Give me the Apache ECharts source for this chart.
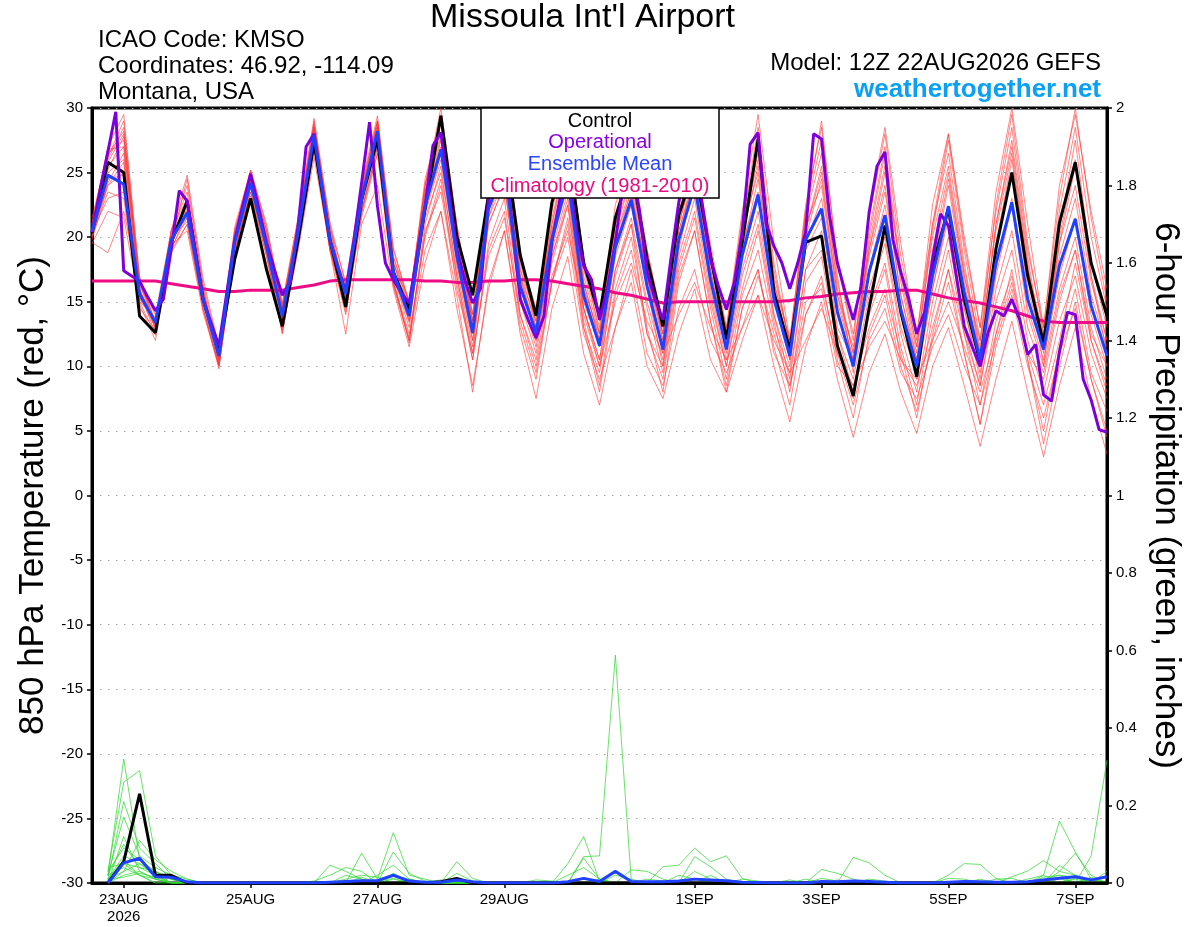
<!DOCTYPE html>
<html><head><meta charset="utf-8">
<script src="https://cdn.jsdelivr.net/npm/echarts@6/dist/echarts.min.js"></script>
<style>html,body{margin:0;padding:0;background:#fff}#c{width:1200px;height:927px}</style>
</head><body><div id="c"></div>
<script>
const FONT = '"Liberation Sans", Arial, Helvetica, sans-serif';

// x axis: 6-hourly steps starting 12Z 22AUG2026 (65 steps)
const tickIndex  = [2, 10, 18, 26, 38, 46, 54, 62];
const tickLabels = ['23AUG\n2026', '25AUG', '27AUG', '29AUG', '1SEP', '3SEP', '5SEP', '7SEP'];
const monthNames = ['JAN','FEB','MAR','APR','MAY','JUN','JUL','AUG','SEP','OCT','NOV','DEC'];
const categories = [];
for (let i = 0; i < 65; i++) {
  const d = new Date(Date.UTC(2026, 7, 22, 12) + i * 6 * 3600 * 1000);
  categories.push(d.getUTCDate() + monthNames[d.getUTCMonth()] + ' ' + String(d.getUTCHours()).padStart(2, '0') + 'Z');
}

// 850 hPa temperature (deg C)
const controlTemp = [20.3,25.8,25.0,13.9, 12.6,19.6,22.8,15.2, 11.2,18.3,23.0,17.5, 13.1,19.8,27.3,19.8,
  14.6,22.9,27.6,17.3, 14.4,22.2,29.4,20.1, 15.5,23.2,27.5,18.6, 13.9,22.7,27.0,18.0,
  13.9,21.5,25.5,18.3, 13.1,21.7,25.5,18.6, 12.1,19.6,27.6,15.7, 11.3,19.6,20.1,11.6,
  7.7,14.5,20.9,14.2, 9.2,17.8,22.2,15.2, 10.3,19.1,25.0,17.0, 11.8,21.1,25.8,18.0, 13.9];
const meanTemp = [20.4,24.8,24.1,15.6, 13.4,19.8,21.9,15.2, 10.8,19.6,24.2,19.3, 13.9,20.4,27.9,19.8,
  15.6,22.9,28.2,17.3, 13.9,22.4,26.8,18.6, 12.6,22.2,25.5,16.2, 12.6,19.8,24.5,15.5,
  11.6,19.2,22.9,16.2, 11.3,19.8,24.0,16.7, 11.3,18.6,23.3,15.2, 10.8,19.8,22.2,14.2,
  10.0,17.3,21.7,14.4, 10.0,17.0,22.4,15.7, 10.5,18.0,22.7,15.2, 11.3,17.8,21.4,14.7, 10.8];
// operational run is 3-hourly (129 values)
const operational3h = [20.4,23.6,26.6,29.7,17.4,17.0,16.6,15.4,
  14.3,15.2,19.1,23.6,22.8,19.0,15.2,13.4,
  11.6,15.7,19.8,22.4,24.9,22.3,19.6,17.5,
  15.5,16.5,20.9,27.0,28.0,23.9,19.8,17.6,
  15.8,19.6,24.2,28.9,22.4,18.0,16.7,15.7,
  14.9,18.6,22.4,27.1,28.1,23.5,19.1,16.7,
  14.9,16.0,22.9,26.0,27.0,20.9,15.2,13.6,
  12.2,13.9,19.6,22.9,25.5,20.9,17.8,16.7,
  13.6,16.0,19.6,24.2,25.5,22.2,17.3,15.2,
  13.6,18.3,22.7,26.0,26.5,22.4,18.3,16.2,
  14.4,16.5,20.4,27.2,28.1,21.1,19.3,18.0,
  16.0,18.0,20.4,28.0,27.6,21.7,18.0,15.7,
  13.6,16.2,21.9,25.5,26.6,19.8,17.3,15.2,
  12.5,14.2,18.3,21.8,20.9,17.0,13.1,11.5,
  10.0,12.6,14.3,13.9,15.2,13.6,10.9,11.7,
  7.8,7.3,11.1,14.2,14.0,9.0,7.4,5.1,
  4.9];
const climatology = [16.6,16.6,16.6,16.6, 16.6,16.4,16.2,16.0, 15.8,15.8,15.9,15.9, 15.9,16.1,16.3,16.6,
  16.7,16.7,16.7,16.7, 16.7,16.6,16.6,16.5, 16.5,16.6,16.6,16.7, 16.7,16.6,16.4,16.2,
  16.0,15.7,15.5,15.2, 14.9,15.0,15.0,15.0, 15.0,15.0,15.0,15.0, 15.1,15.3,15.4,15.6,
  15.7,15.8,15.8,15.9, 15.9,15.6,15.3,15.1, 14.9,14.6,14.3,13.9, 13.5,13.4,13.4,13.4, 13.4];

// ensemble members (850 hPa temperature)
const member01 = [20.8,26.0,28.5,16.0, 13.0,19.5,22.5,15.8, 10.5,20.0,25.0,20.0, 14.2,21.0,28.8,20.5, 15.0,23.5,28.8,18.0, 14.5,23.5,29.0,20.5, 14.0,23.5,28.0,18.0, 13.5,21.0,27.0,17.5, 13.0,21.5,26.0,18.5, 12.5,21.5,26.5,18.5, 12.0,21.0,28.5,18.0, 11.5,22.0,27.5,17.0, 9.5,20.0,26.5,17.0, 11.0,20.5,27.5,19.0, 12.0,22.5,29.5,19.5, 12.5,22.0,28.5,20.0, 14.5];
const member02 = [20.0,23.5,23.0,14.5, 12.8,19.0,21.0,14.5, 10.2,19.0,23.5,18.5, 13.0,19.5,27.0,19.0, 14.5,21.5,26.5,16.5, 12.5,20.0,24.0,17.0, 10.5,19.5,23.0,14.0, 10.0,16.5,21.5,13.5, 8.5,16.0,20.0,13.0, 8.0,16.5,20.5,13.5, 8.5,14.5,17.5,11.5, 7.0,14.0,17.0,10.5, 6.0,12.5,15.5,10.0, 6.5,12.0,16.5,11.0, 5.5,11.5,15.5,10.0, 6.0,11.0,14.5,9.0, 5.0];
const member03 = [21.0,27.0,29.5,16.5, 13.5,20.5,23.0,16.0, 11.0,20.5,25.0,20.5, 14.5,21.0,28.5,20.0, 16.0,23.5,29.0,18.5, 14.5,24.0,29.5,21.0, 13.5,23.5,27.5,17.5, 13.0,21.0,26.0,16.5, 12.0,20.5,24.5,17.5, 12.5,21.0,25.5,18.5, 12.5,21.5,27.0,17.0, 12.0,22.5,28.5,18.0, 12.5,21.5,28.0,18.5, 12.5,21.0,26.5,18.0, 11.0,21.0,27.0,18.0, 10.0,19.5,24.0,16.5, 12.0];
const member04 = [19.5,22.0,21.5,15.0, 13.8,20.0,21.5,14.8, 11.2,19.5,24.0,19.0, 13.5,20.0,27.5,19.5, 16.0,23.0,27.5,17.0, 13.5,21.5,25.0,17.5, 11.5,21.0,24.0,15.0, 12.0,18.5,22.5,14.0, 10.0,17.0,21.0,14.5, 9.5,17.5,21.5,14.5, 9.0,15.5,19.0,13.0, 9.5,17.5,19.0,12.5, 8.0,14.5,18.0,11.5, 7.0,14.0,19.0,12.5, 8.5,15.0,19.0,12.0, 8.0,13.5,17.0,11.0, 7.5];
const member05 = [20.5,25.5,27.0,16.0, 13.2,19.5,22.0,15.5, 10.8,19.5,24.5,19.5, 14.0,20.5,28.0,20.0, 15.5,22.0,27.0,16.5, 12.0,19.0,22.0,15.5, 8.0,16.5,20.5,12.5, 7.5,14.5,18.5,11.0, 7.0,13.0,16.5,10.0, 7.5,12.5,16.0,10.5, 8.0,12.0,15.5,10.0, 5.7,11.5,15.0,9.0, 4.5,9.5,12.5,8.0, 4.8,10.0,13.0,8.5, 3.8,9.0,13.5,8.0, 3.0,8.5,13.0,7.5, 3.2];
const member06 = [21.5,26.5,27.5,15.8, 12.5,19.0,22.0,15.0, 10.0,19.0,23.5,19.0, 13.0,20.0,27.0,19.5, 15.0,22.5,28.5,17.5, 14.0,22.0,26.5,18.5, 13.0,22.5,26.5,17.0, 13.5,20.5,25.5,16.5, 12.0,20.0,24.0,17.0, 12.0,20.5,25.0,17.5, 11.5,20.0,25.5,16.5, 11.0,21.5,26.5,16.0, 11.0,20.5,27.0,17.5, 11.5,21.0,28.0,19.5, 13.0,22.0,28.5,19.0, 13.0,23.0,30.0,21.5, 15.0];
const member07 = [19.8,24.0,25.0,15.2, 13.6,20.2,22.2,15.0, 10.6,19.8,24.3,19.5, 14.0,20.8,28.3,20.2, 15.8,23.0,28.0,17.0, 13.0,22.5,27.5,19.0, 12.5,22.0,25.0,15.5, 12.0,19.0,23.5,14.5, 10.5,18.5,22.5,16.0, 10.0,19.0,24.5,16.0, 10.5,17.5,22.0,14.0, 10.0,19.0,21.5,13.0, 10.5,16.0,20.0,13.0, 9.5,16.0,21.5,14.5, 9.0,17.0,22.5,14.0, 10.0,16.0,20.0,13.0, 9.0];
const member08 = [20.2,25.0,26.0,14.8, 12.0,19.2,21.5,14.6, 9.8,18.8,23.8,18.8, 12.5,19.8,27.2,19.2, 14.2,22.0,27.8,16.8, 11.8,21.0,25.5,17.0, 11.0,21.5,24.5,15.0, 11.0,18.0,22.5,13.0, 9.5,17.5,21.0,12.5, 10.0,18.0,22.0,15.0, 10.0,16.0,20.5,13.5, 8.0,16.5,18.5,11.5, 7.5,14.0,17.5,10.5, 8.5,13.0,17.5,12.5, 7.0,13.5,17.0,10.5, 5.0,11.5,16.0,9.5, 6.5];
const member09 = [19.6,18.8,22.0,16.2, 14.0,20.5,24.8,16.8, 11.5,20.5,25.0,20.5, 14.5,21.0,27.5,19.0, 12.5,21.0,24.0,16.0, 11.5,18.0,22.0,14.5, 8.5,16.0,20.5,13.0, 9.0,16.5,20.0,12.5, 9.0,13.0,17.5,11.0, 8.5,14.5,17.5,12.0, 9.5,13.0,17.0,12.5, 8.5,14.0,16.5,11.0, 7.0,12.0,14.5,9.5, 7.5,11.5,14.0,10.0, 7.0,12.0,16.0,11.0, 9.0,15.0,19.0,12.5, 10.0];
const member10 = [21.0,26.8,27.0,15.6, 13.0,20.0,21.8,15.4, 11.0,19.8,24.6,19.8, 14.8,21.2,29.0,20.8, 16.5,24.0,29.0,18.5, 15.0,23.5,28.0,19.5, 13.5,23.0,27.0,17.5, 14.0,21.5,26.5,17.0, 12.5,21.0,24.5,18.0, 12.0,22.0,26.0,18.0, 13.0,20.5,26.0,16.5, 12.0,20.5,25.0,15.5, 11.5,19.0,25.0,16.5, 10.5,19.0,25.0,17.0, 12.0,20.5,26.5,17.5, 12.5,20.5,27.5,18.0, 13.0];
const member11 = [20.6,25.8,28.0,16.8, 13.4,19.8,22.6,15.6, 10.4,19.2,24.0,19.2, 13.6,20.2,28.0,20.0, 16.2,23.5,28.5,18.0, 15.0,24.0,29.0,20.0, 13.5,22.5,26.5,17.0, 12.5,20.5,25.5,16.0, 12.5,20.0,23.5,17.0, 12.5,21.0,25.5,17.5, 11.5,20.5,25.0,16.0, 11.5,21.0,24.0,15.0, 10.5,19.0,24.0,15.5, 10.0,17.5,24.0,16.5, 10.5,19.0,25.0,16.0, 11.5,18.5,23.0,15.5, 11.5];
const member12 = [20.0,24.5,24.8,15.3, 13.6,20.0,21.2,15.0, 11.0,19.6,24.4,19.4, 14.2,20.6,27.8,20.0, 15.4,22.8,28.6,17.6, 14.2,23.0,27.0,18.0, 12.0,21.5,25.5,16.5, 12.5,19.5,24.0,15.0, 11.5,19.5,23.0,16.5, 11.5,20.5,24.5,17.0, 12.0,19.5,23.5,15.5, 10.5,19.5,23.0,14.5, 10.0,17.5,22.5,14.5, 9.0,16.0,22.0,14.5, 9.5,17.5,23.0,14.5, 10.5,17.0,21.5,14.0, 10.0];
const member13 = [21.2,26.2,29.0,17.0, 12.8,19.6,24.5,16.2, 10.2,20.2,25.2,21.0, 14.6,21.4,28.6,21.0, 15.2,23.8,29.0,19.0, 15.0,24.0,30.0,21.0, 14.0,24.0,28.5,19.0, 13.0,22.0,27.5,18.5, 12.5,21.0,25.5,19.0, 13.0,22.5,26.0,19.5, 13.0,22.0,29.5,19.5, 12.0,22.0,29.0,18.0, 12.0,22.0,28.5,19.5, 12.0,22.5,28.0,20.0, 13.0,23.5,30.0,21.0, 13.0,24.0,29.5,22.0, 16.0];
const member14 = [20.4,23.0,23.5,14.0, 12.6,19.4,20.5,14.2, 10.0,18.5,23.0,18.0, 12.8,19.0,26.2,19.2, 14.8,22.0,26.5,16.2, 12.0,20.5,23.5,16.5, 10.5,19.0,22.0,13.5, 9.5,16.5,21.0,13.0, 8.0,15.5,19.0,12.5, 9.0,17.0,20.5,13.5, 8.0,14.5,17.5,11.0, 8.5,15.0,16.0,10.0, 8.5,13.0,16.0,11.0, 6.0,12.5,17.5,11.0, 5.5,12.5,17.5,10.5, 4.0,10.0,15.0,9.0, 4.5];
const member15 = [20.3,25.2,27.8,16.4, 13.1,20.4,23.5,15.9, 10.9,20.0,24.8,20.2, 14.3,20.9,28.5,20.6, 15.7,23.2,28.4,18.2, 13.6,22.8,27.8,19.6, 12.8,22.8,26.8,16.8, 12.8,20.2,25.0,16.0, 11.5,19.5,23.5,17.0, 11.0,20.0,24.8,17.0, 11.0,19.0,24.5,16.0, 10.5,20.0,24.5,15.5, 10.5,18.5,23.5,15.5, 10.5,18.0,24.5,17.0, 11.0,19.5,26.0,17.5, 11.5,19.5,25.5,17.0, 12.0];
const member16 = [20.1,24.2,26.5,15.0, 12.4,18.8,21.0,14.4, 10.1,18.6,23.2,18.6, 12.6,19.4,26.8,19.0, 14.0,21.8,27.0,16.4, 12.2,20.2,24.5,16.0, 11.0,18.5,21.5,14.0, 10.5,17.0,20.5,14.5, 10.0,15.0,18.0,13.5, 11.0,14.0,16.5,13.0, 10.5,13.0,15.5,12.0, 9.5,12.0,14.5,11.0, 8.5,11.5,13.5,10.5, 9.0,12.0,15.0,11.5, 8.0,12.5,16.5,11.0, 7.0,12.0,18.0,12.0, 8.0];
const member17 = [20.9,26.4,28.2,15.9, 13.3,20.6,24.0,16.4, 11.3,20.8,25.2,20.8, 14.9,21.6,29.2,21.2, 16.3,24.2,29.4,19.2, 14.8,24.5,29.2,20.0, 13.2,24.0,28.8,18.5, 14.5,22.5,28.0,18.0, 13.5,22.5,26.5,19.0, 13.5,22.0,26.0,18.0, 12.5,21.0,26.5,17.5, 11.5,20.5,25.5,16.5, 11.0,19.5,25.5,17.5, 11.5,20.0,25.5,17.5, 11.5,21.0,27.5,18.5, 11.0,20.0,26.0,17.0, 11.0];
const member18 = [20.4,24.0,25.8,15.4, 13.0,19.6,22.0,15.2, 10.7,19.4,24.0,19.2, 13.8,20.4,27.6,19.8, 15.3,22.6,27.6,17.2, 13.4,21.8,26.0,18.0, 12.0,21.0,24.0,15.5, 11.5,18.5,23.0,14.5, 10.5,17.5,21.5,15.0, 10.5,18.5,23.0,15.5, 10.0,17.0,21.0,14.0, 9.0,17.5,20.5,12.5, 9.0,15.5,19.5,12.5, 8.0,15.0,20.0,13.0, 8.5,16.0,20.5,13.0, 9.5,15.5,19.0,12.0, 8.5];
const tempMembers = [member01, member02, member03, member04, member05, member06, member07, member08, member09,
  member10, member11, member12, member13, member14, member15, member16, member17, member18];

// 6-hour precipitation (inches)
const controlPrecip = [null,0,0.055,0.23,0.02,0.02,0,0,0,0, 0,0,0,0,0,0,0,0,0,0, 0,0,0.003,0.012,0,0,0,0,0,0, 0,0,0,0,0,0,0,0,0,0, 0,0,0,0,0,0,0,0,0,0, 0,0,0,0,0,0,0,0,0,0, 0,0,0,0,0];
const meanPrecip = [null,0,0.052,0.064,0.016,0.015,0.003,0,0,0, 0,0,0,0,0,0.002,0.004,0.006,0.006,0.02, 0.005,0.002,0.002,0.008,0.003,0,0,0,0,0, 0.003,0.012,0.004,0.03,0.004,0.003,0.003,0.005,0.01,0.008, 0.006,0.002,0.001,0,0,0,0.004,0.003,0.005,0.004, 0.002,0,0,0,0.002,0.004,0.003,0.002,0.002,0.003, 0.008,0.012,0.016,0.008,0.016];
const precip01 = [null,0.02,0.32,0.06,0.02,0.01,0,0,0,0, 0,0,0,0,0,0.046,0.03,0.01,0,0, 0,0,0,0,0,0,0,0,0,0, 0,0.068,0.07,0.588,0.008,0,0,0,0,0, 0,0,0,0,0,0,0,0,0,0, 0,0,0,0,0,0,0,0,0,0, 0.02,0.16,0.08,0.01,0];
const precip02 = [null,0.03,0.26,0.29,0.07,0.02,0.01,0,0,0, 0,0,0,0,0,0,0,0.077,0.01,0.13, 0.02,0.01,0,0,0,0,0,0,0,0, 0.05,0.12,0.005,0,0,0,0,0,0,0, 0,0,0,0,0,0,0.035,0.025,0.01,0, 0,0,0,0,0,0,0,0,0,0, 0,0,0,0.07,0.317];
const precip03 = [null,0.01,0.21,0.09,0.05,0.01,0,0,0,0, 0,0,0,0,0,0,0,0,0,0.08, 0.025,0.005,0,0.055,0.012,0,0,0,0,0, 0,0.064,0.01,0,0,0,0.042,0.046,0.09,0.055, 0.07,0.012,0,0,0,0,0,0,0,0, 0,0,0,0,0.02,0.05,0.048,0.012,0,0, 0,0,0,0,0];
const precip04 = [null,0.02,0.17,0.07,0.04,0.02,0,0,0,0, 0,0,0,0,0,0,0,0,0.02,0.046, 0.01,0,0,0,0,0,0,0,0,0, 0,0,0,0,0.034,0.03,0.01,0,0,0, 0,0,0,0,0,0,0,0,0.066,0.052, 0.02,0,0,0,0,0,0,0,0.016,0.031, 0.058,0.03,0.077,0.02,0];
const precip05 = [null,0.01,0.07,0.05,0.02,0,0,0,0,0, 0,0,0,0,0.005,0.02,0.04,0.03,0,0.025, 0.005,0,0,0,0,0,0,0,0,0, 0,0,0,0,0,0,0,0,0.068,0.042, 0.01,0,0,0,0.008,0,0,0,0,0, 0,0,0,0,0,0,0,0,0,0, 0,0.03,0.02,0,0];
const precip06 = [null,0.04,0.05,0.04,0.03,0.01,0,0,0,0, 0,0,0,0,0,0,0,0,0,0, 0,0,0,0.025,0.005,0,0,0,0,0, 0,0,0,0,0,0,0,0.02,0.01,0, 0,0,0,0,0,0,0,0,0,0, 0,0,0,0,0.012,0.01,0,0,0,0, 0.015,0.02,0.015,0,0];
const precip07 = [null,0,0.12,0.03,0.01,0,0,0,0,0, 0,0,0,0,0,0,0.01,0.02,0.015,0, 0,0,0,0,0,0,0,0,0.008,0.005, 0,0,0,0,0,0,0,0,0,0, 0,0,0,0,0,0,0,0,0,0.01, 0.005,0,0,0,0,0,0,0,0,0, 0,0,0,0,0.03];
const precip08 = [null,0.02,0.04,0.02,0.01,0,0,0,0,0, 0,0,0,0,0,0,0,0,0,0.02, 0.01,0,0,0,0,0,0,0,0,0, 0,0,0,0,0,0,0,0,0,0, 0,0.01,0.005,0,0,0,0,0,0,0, 0,0,0,0,0,0,0,0,0,0.01, 0.02,0,0,0,0];
const precip09 = [null,0.01,0.03,0.11,0.06,0.03,0.01,0,0,0, 0,0,0,0,0,0,0,0,0,0, 0,0,0.005,0.012,0,0,0,0,0,0, 0,0,0.01,0,0,0,0,0,0,0, 0,0,0,0,0,0,0.012,0.005,0,0, 0,0,0,0,0,0,0,0,0,0, 0,0,0.02,0.01,0];
const precip10 = [null,0.03,0.09,0.06,0.03,0,0,0,0,0, 0,0,0,0,0,0,0,0.015,0,0, 0,0,0,0,0,0,0,0,0,0, 0,0,0,0,0,0,0,0,0,0.02, 0,0,0,0,0,0,0,0,0,0, 0,0,0,0,0,0,0,0.01,0.012,0, 0,0,0,0,0];
const precip11 = [null,0,0.02,0.03,0.01,0,0,0,0,0, 0,0,0,0,0,0,0,0,0,0, 0,0,0,0,0,0,0,0,0,0, 0,0,0,0,0,0.01,0.005,0,0,0, 0,0,0,0,0,0,0,0,0,0, 0,0,0,0,0,0,0,0,0,0, 0,0.012,0,0,0];
const precip12 = [null,0.01,0.06,0.02,0,0,0,0,0,0, 0,0,0,0,0,0,0,0,0,0, 0.01,0,0,0,0,0,0,0,0,0, 0,0,0,0,0,0,0,0,0,0, 0,0,0,0,0,0,0,0,0,0, 0,0,0,0,0,0,0,0,0,0, 0,0,0.01,0,0];
const precip13 = [null,0.02,0.1,0.04,0.02,0,0,0,0,0, 0,0,0,0,0,0,0.02,0.01,0,0, 0,0,0,0,0,0,0,0,0,0, 0,0,0,0.02,0.01,0,0,0,0,0, 0,0,0,0,0,0,0,0.008,0,0, 0,0,0,0,0,0,0,0,0,0, 0,0.045,0.02,0,0];
const precip14 = [null,0,0.03,0.05,0.03,0.01,0,0,0,0, 0,0,0,0,0,0,0,0,0,0.01, 0,0,0,0,0,0,0,0,0,0, 0.02,0.04,0.01,0,0,0,0,0,0,0, 0,0,0,0,0,0,0,0,0,0, 0,0,0,0,0,0,0.01,0,0,0, 0,0,0,0.015,0];
const precip15 = [null,0.01,0.015,0.025,0.015,0,0,0,0,0, 0,0,0,0,0,0,0,0,0,0, 0,0,0.008,0,0,0,0,0,0,0, 0,0,0,0,0,0,0,0,0.03,0.01, 0,0,0,0,0,0,0,0,0,0, 0,0,0,0,0,0,0,0,0,0, 0.01,0.02,0,0,0];
const precip16 = [null,0,0.05,0.02,0,0,0,0,0,0, 0,0,0,0,0,0,0,0,0.005,0.012, 0,0,0,0,0,0,0,0,0,0, 0,0,0,0,0,0,0,0,0,0, 0,0,0,0,0,0.01,0,0,0,0, 0,0,0,0,0,0,0,0,0,0, 0,0,0.012,0.01,0];
const precipMembers = [precip01, precip02, precip03, precip04, precip05, precip06, precip07, precip08,
  precip09, precip10, precip11, precip12, precip13, precip14, precip15, precip16];

const legendItems  = ['Control', 'Operational', 'Ensemble Mean', 'Climatology (1981-2010)'];
const legendColors = ['#000000', '#8a00e6', '#2a44ff', '#ec0a82'];

const chart = echarts.init(document.getElementById('c'), null, {renderer: 'canvas'});
const series = [];
tempMembers.forEach((m, k) => series.push({
  name: 'T member ' + (k + 1), type: 'line', data: m, xAxisIndex: 0, yAxisIndex: 0,
  symbol: 'none', silent: true, z: 1,
  lineStyle: {color: '#ff3535', width: 0.8, opacity: 0.75}
}));
precipMembers.forEach((m, k) => series.push({
  name: 'P member ' + (k + 1), type: 'line', data: m, xAxisIndex: 0, yAxisIndex: 1,
  symbol: 'none', silent: true, z: 1,
  lineStyle: {color: '#2ed62e', width: 0.8, opacity: 0.9}
}));
series.push({name: 'Climatology', type: 'line', data: climatology, xAxisIndex: 0, yAxisIndex: 0,
  symbol: 'none', silent: true, z: 2, lineStyle: {color: '#ee0b85', width: 3}});
series.push({name: 'Control', type: 'line', data: controlTemp, xAxisIndex: 0, yAxisIndex: 0,
  symbol: 'none', silent: true, z: 3, lineStyle: {color: '#000', width: 3}});
series.push({name: 'Operational', type: 'line', data: operational3h.map((v, k) => [k / 2, v]),
  xAxisIndex: 1, yAxisIndex: 0, symbol: 'none', silent: true, z: 4,
  lineStyle: {color: '#7d00dc', width: 3}});
series.push({name: 'Ensemble Mean', type: 'line', data: meanTemp, xAxisIndex: 0, yAxisIndex: 0,
  symbol: 'none', silent: true, z: 5, lineStyle: {color: '#2040ff', width: 3}});
series.push({name: 'Control precip', type: 'line', data: controlPrecip, xAxisIndex: 0, yAxisIndex: 1,
  symbol: 'none', silent: true, z: 3, lineStyle: {color: '#000', width: 3}});
series.push({name: 'Mean precip', type: 'line', data: meanPrecip, xAxisIndex: 0, yAxisIndex: 1,
  symbol: 'none', silent: true, z: 5, lineStyle: {color: '#2040ff', width: 3}});

const tickFn = (index) => tickIndex.indexOf(index) >= 0;

const legendGraphic = [
  {type: 'rect', z: 100, zlevel: 1, shape: {x: 481, y: 108, width: 238, height: 90},
    style: {fill: '#fff', stroke: '#000', lineWidth: 1.5}}
].concat(legendItems.map((t, k) => ({
  type: 'text', z: 101, zlevel: 1,
  style: {text: t, x: 600, y: 121 + k * 21.7, fill: legendColors[k], font: '20px ' + FONT,
    textAlign: 'center', textVerticalAlign: 'middle'}
})));

chart.setOption({
  animation: false,
  backgroundColor: '#fff',
  textStyle: {fontFamily: FONT},
  title: [
    {text: "Missoula Int'l Airport", left: 430, top: 0, padding: 0,
      textStyle: {fontSize: 34, fontWeight: 'normal', color: '#000', fontFamily: FONT, lineHeight: 36}},
    {text: 'ICAO Code: KMSO\nCoordinates: 46.92, -114.09\nMontana, USA', left: 98, top: 27, padding: 0,
      textStyle: {fontSize: 24, fontWeight: 'normal', color: '#000', fontFamily: FONT, lineHeight: 26}},
    {text: 'Model: 12Z 22AUG2026 GEFS', right: 99, top: 50, padding: 0,
      textStyle: {fontSize: 24, fontWeight: 'normal', color: '#000', fontFamily: FONT, lineHeight: 26}},
    {text: 'weathertogether.net', right: 99, top: 76, padding: 0,
      textStyle: {fontSize: 26, fontWeight: 'bold', color: '#0aa0f5', fontFamily: FONT, lineHeight: 28}}
  ],
  grid: {left: 92, right: 93, top: 108, bottom: 44, show: true, borderColor: '#000', borderWidth: 3,
    backgroundColor: 'transparent', containLabel: false},
  xAxis: [
    {type: 'category', data: categories, boundaryGap: false,
      axisLine: {show: true, onZero: false, lineStyle: {color: '#000', width: 3}},
      axisTick: {show: true, interval: tickFn, length: 5, lineStyle: {color: '#000', width: 1.5}},
      axisLabel: {interval: tickFn, color: '#000', fontSize: 15, margin: 8, lineHeight: 17,
        formatter: (v, idx) => { const k = tickIndex.indexOf(idx); return k >= 0 ? tickLabels[k] : ''; }},
      splitLine: {show: false}},
    {type: 'value', min: 0, max: 64, show: false}
  ],
  yAxis: [
    {type: 'value', min: -30, max: 30, interval: 5, position: 'left',
      name: '850 hPa Temperature (red, °C)', nameLocation: 'middle', nameGap: 40, nameRotate: 90,
      nameTextStyle: {fontSize: 35, color: '#000', fontFamily: FONT},
      axisLine: {show: true, onZero: false, lineStyle: {color: '#000', width: 3}},
      axisTick: {show: true, length: 5, lineStyle: {color: '#000', width: 1.5}},
      axisLabel: {color: '#000', fontSize: 15, margin: 9},
      splitLine: {show: true, lineStyle: {color: '#aaaaaa', width: 1.2, type: [1.5, 6.5]}}},
    {type: 'value', min: 0, max: 2, interval: 0.2, position: 'right',
      name: '6-hour Precipitation (green, inches)', nameLocation: 'middle', nameGap: 40, nameRotate: -90,
      nameTextStyle: {fontSize: 35, color: '#000', fontFamily: FONT},
      axisLine: {show: true, onZero: false, lineStyle: {color: '#000', width: 3}},
      axisTick: {show: true, length: 5, lineStyle: {color: '#000', width: 1.5}},
      axisLabel: {color: '#000', fontSize: 15, margin: 9},
      splitLine: {show: false}}
  ],
  graphic: legendGraphic,
  series: series
});
</script>
</body></html>
